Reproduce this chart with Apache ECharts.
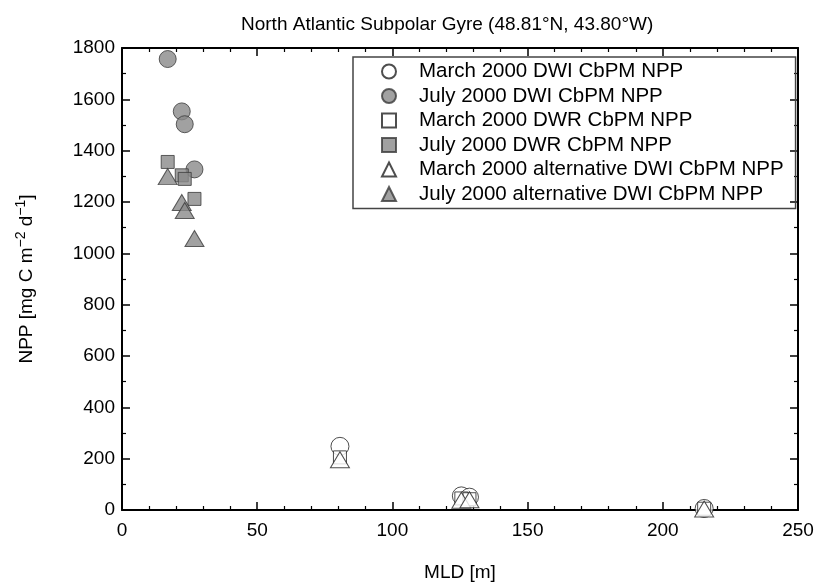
<!DOCTYPE html>
<html>
<head>
<meta charset="utf-8">
<script src="https://cdn.jsdelivr.net/npm/echarts@6/dist/echarts.min.js"></script>
<style>
  html, body { margin: 0; padding: 0; background: #fff; }
  #chart { width: 816px; height: 584px; }
</style>
</head>
<body>
<div id="chart"></div>
<script>
// MLD [m] of each profile
const julyMLD = [16.9, 22.1, 23.2, 26.8];
const marchMLD = [80.6, 125.5, 128.5, 215.3];

// NPP [mg C m-2 d-1]
const julyDwi = [1757, 1553, 1503, 1327];
const julyDwr = [1356, 1304, 1290, 1212];
const julyAlt = [1299, 1198, 1167, 1058];
const marchDwi = [248, 55, 50, 6];
const marchDwr = [205, 45, 42, 5];
const marchAlt = [196, 38, 40, 4];

const seriesNames = [
  "March 2000 DWI CbPM NPP",
  "July 2000 DWI CbPM NPP",
  "March 2000 DWR CbPM NPP",
  "July 2000 DWR CbPM NPP",
  "March 2000 alternative DWI CbPM NPP",
  "July 2000 alternative DWI CbPM NPP",
];

const FONT = "Liberation Sans";
const GREY = "#8a8a8a";

const pairs = (xs, ys) => xs.map((x, i) => [x, ys[i]]);

const openStyle = { color: "#fff", borderColor: "#222", borderWidth: 1 };
const fillStyle = { color: GREY, borderColor: "#3a3a3a", borderWidth: 1 };

const chart = echarts.init(document.getElementById("chart"));

const axisBase = {
  axisLine: { show: true, onZero: false, lineStyle: { color: "#000", width: 2 } },
  axisTick: { show: true, inside: true, length: 8, lineStyle: { color: "#000", width: 1.5 } },
  minorTick: { show: true, length: 4, lineStyle: { color: "#000", width: 1.2 } },
  splitLine: { show: false },
};

const plain = (v) => String(v);

const scatter = (name, data, symbol, size, style, z) => ({
  name,
  type: "scatter",
  data,
  symbol,
  symbolSize: size,
  itemStyle: style,
  z,
});

chart.setOption({
  animation: false,
  backgroundColor: "#fff",
  title: {
    text: "North Atlantic Subpolar Gyre (48.81°N, 43.80°W)",
    left: 236,
    top: 10,
    textStyle: { fontFamily: FONT, fontSize: 19, fontWeight: "normal", color: "#000" },
  },
  legend: {
    orient: "vertical",
    left: 353,
    top: 57,
    padding: [4, 12, 4, 28],
    itemWidth: 14,
    itemHeight: 14,
    itemGap: 3.5,
    borderColor: "#444",
    borderWidth: 1.5,
    data: seriesNames,
    textStyle: { fontFamily: FONT, fontSize: 20.5, color: "#000", lineHeight: 20, padding: [0, 0, 0, 18] },
  },
  grid: { left: 122, right: 18, top: 48, bottom: 74, outerBoundsMode: "none", containLabel: false },
  xAxis: [
    {
      ...axisBase,
      type: "value",
      min: 0,
      max: 250,
      interval: 50,
      minorTick: { ...axisBase.minorTick, splitNumber: 5 },
      axisLabel: { color: "#000", fontFamily: FONT, fontSize: 19, margin: 11, formatter: plain },
      name: "MLD [m]",
      nameLocation: "middle",
      nameGap: 53,
      nameTextStyle: { color: "#000", fontFamily: FONT, fontSize: 19 },
    },
    {
      ...axisBase,
      type: "value",
      position: "top",
      min: 0,
      max: 250,
      interval: 50,
      minorTick: { ...axisBase.minorTick, splitNumber: 5 },
      axisLabel: { show: false },
    },
  ],
  yAxis: [
    {
      ...axisBase,
      type: "value",
      min: 0,
      max: 1800,
      interval: 200,
      minorTick: { ...axisBase.minorTick, splitNumber: 2 },
      axisLabel: { color: "#000", fontFamily: FONT, fontSize: 19, margin: 7, formatter: plain },
      name: "NPP [mg C m{sup|−2} d{sup|−1}]",
      nameLocation: "middle",
      nameGap: 82,
      nameTextStyle: {
        color: "#000",
        fontFamily: FONT,
        fontSize: 19,
        lineHeight: 26,
        rich: {
          sup: { fontFamily: FONT, fontSize: 14, lineHeight: 14, verticalAlign: "top", color: "#000" },
        },
      },
    },
    {
      ...axisBase,
      type: "value",
      position: "right",
      min: 0,
      max: 1800,
      interval: 200,
      minorTick: { ...axisBase.minorTick, splitNumber: 2 },
      axisLabel: { show: false },
    },
  ],
  series: [
    scatter(seriesNames[0], pairs(marchMLD, marchDwi), "circle", 18, openStyle, 2),
    scatter(seriesNames[1], pairs(julyMLD, julyDwi), "circle", 17, fillStyle, 2),
    scatter(seriesNames[2], pairs(marchMLD, marchDwr), "rect", 13, openStyle, 3),
    scatter(seriesNames[3], pairs(julyMLD, julyDwr), "rect", 13, fillStyle, 3),
    scatter(seriesNames[4], pairs(marchMLD, marchAlt), "triangle", [19, 16], openStyle, 4),
    scatter(seriesNames[5], pairs(julyMLD, julyAlt), "triangle", [19, 16], fillStyle, 4),
  ],
});
</script>
</body>
</html>
